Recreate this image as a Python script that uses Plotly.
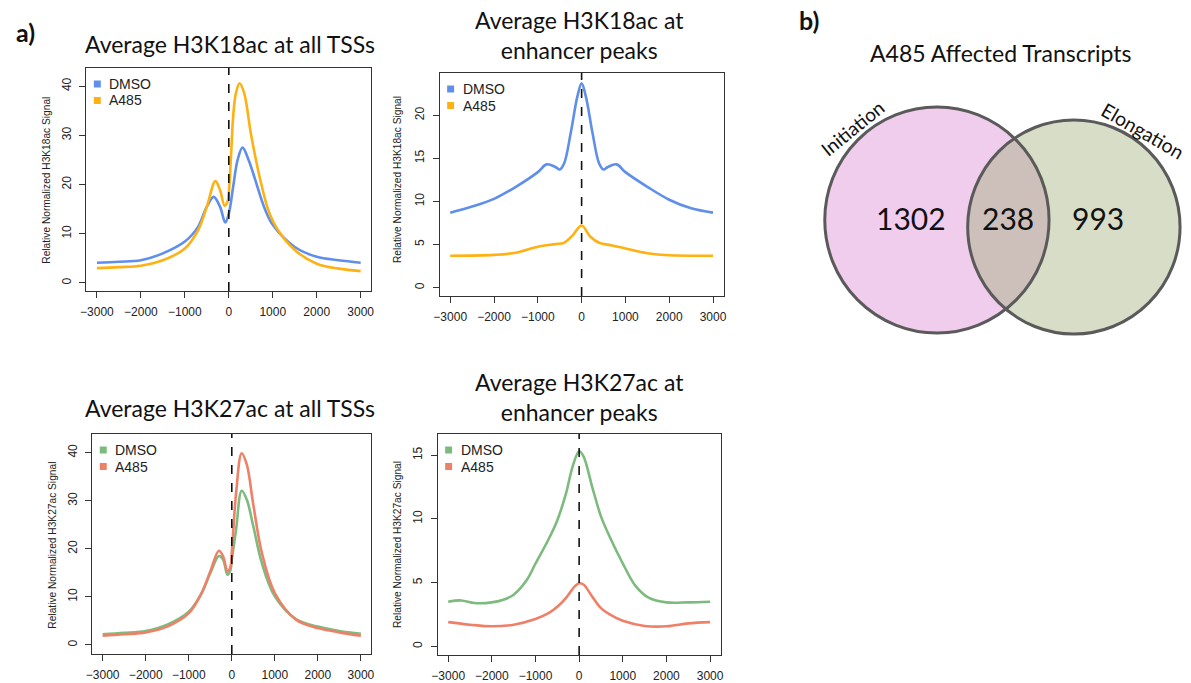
import numpy as np
import plotly.graph_objects as go

W, H = 1191, 683

# ---------------- data ----------------
xticks = [-3000, -2000, -1000, 0, 1000, 2000, 3000]

k18_tss_dmso_x = [-3000, -2500, -2000, -1500, -1000, -700, -500, -344, -200, -80, 0, 100, 200, 312, 450, 600, 800, 1000, 1500, 2000, 2500, 3000]
k18_tss_dmso_y = [4.1, 4.3, 4.6, 6.0, 8.4, 11.4, 15.5, 17.5, 15.5, 12.3, 14.1, 19.6, 25.0, 27.5, 25.0, 21.0, 15.5, 11.8, 7.3, 5.3, 4.6, 4.1]
k18_tss_a485_x = [-3000, -2500, -2000, -1500, -1000, -700, -500, -306, -200, -95, -30, 0, 50, 100, 160, 245, 350, 500, 700, 900, 1100, 1500, 2000, 2500, 3000]
k18_tss_a485_y = [3.0, 3.2, 3.5, 4.6, 7.0, 10.7, 15.5, 20.7, 18.9, 15.7, 16.5, 18.3, 25.7, 33.9, 38.5, 40.6, 38.6, 30.5, 21.6, 14.8, 11.0, 6.7, 3.9, 2.9, 2.4]

k18_enh_dmso_x = [-3000, -2500, -2000, -1500, -1000, -800, -600, -500, -400, -250, -100, 0, 100, 250, 400, 500, 600, 800, 1000, 1500, 2000, 2500, 3000]
k18_enh_dmso_y = [8.7, 9.4, 10.3, 11.7, 13.4, 14.3, 14.0, 13.7, 14.4, 17.9, 22.1, 23.7, 22.1, 17.9, 14.4, 13.7, 14.0, 14.3, 13.4, 11.7, 10.2, 9.2, 8.7]
k18_enh_a485_x = [-3000, -2000, -1500, -1000, -600, -400, -200, 0, 200, 400, 700, 1000, 1500, 2000, 3000]
k18_enh_a485_y = [3.7, 3.8, 4.05, 4.75, 5.05, 5.2, 6.1, 7.2, 5.9, 5.2, 4.9, 4.55, 4.0, 3.75, 3.7]

k27_tss_x = [-3000, -2500, -2000, -1500, -1000, -700, -500, -300, -200, -100, -30, 0, 100, 230, 350, 500, 700, 1000, 1500, 2000, 2500, 3000]
k27_tss_dmso_y = [2.2, 2.5, 2.9, 4.2, 6.9, 10.8, 14.9, 18.5, 17.7, 14.6, 15.6, 17.7, 24.0, 32.1, 30.2, 24.7, 17.0, 10.1, 5.3, 3.8, 2.9, 2.3]
k27_tss_a485_y = [1.9, 2.2, 2.6, 3.8, 6.6, 10.8, 15.3, 19.6, 18.4, 15.3, 16.3, 19.1, 31.6, 39.9, 37.5, 29.2, 19.1, 10.8, 5.2, 3.5, 2.6, 1.9]

k27_enh_dmso_x = [-3000, -2700, -2400, -2000, -1700, -1500, -1200, -1000, -700, -500, -300, -150, 0, 100, 300, 500, 700, 1000, 1300, 1600, 2000, 2500, 3000]
k27_enh_dmso_y = [3.5, 3.6, 3.4, 3.45, 3.7, 4.05, 5.2, 6.5, 8.4, 9.9, 12.0, 14.1, 15.3, 14.9, 12.5, 10.2, 8.6, 6.5, 4.7, 3.8, 3.45, 3.45, 3.5]
k27_enh_a485_x = [-3000, -2500, -2000, -1500, -1000, -700, -500, -300, -100, 0, 100, 300, 500, 700, 1000, 1500, 2000, 2500, 3000]
k27_enh_a485_y = [1.9, 1.7, 1.57, 1.7, 2.15, 2.6, 3.1, 3.8, 4.7, 4.95, 4.85, 3.9, 3.0, 2.5, 2.0, 1.6, 1.57, 1.8, 1.9]

panel_titles = ["Average H3K18ac at all TSSs", "Average H3K18ac at<br>enhancer peaks",
                "Average H3K27ac at all TSSs", "Average H3K27ac at<br>enhancer peaks"]
ylabels = ["Relative Normalized H3K18ac Signal", "Relative Normalized H3K18ac Signal",
           "Relative Normalized H3K27ac Signal", "Relative Normalized H3K27ac Signal"]
series_names = ["DMSO", "A485"]

venn_title = "A485 Affected Transcripts"
venn_sets = ["Initiation", "Elongation"]
venn_counts = [1302, 238, 993]  # only-initiation, both, only-elongation

# ---------------- styling ----------------
BLUE, ORANGE = "#5f8fea", "#fdb112"
GREEN, SALMON = "#7dba7d", "#ef8068"
FONT_T = "Lato"
FONT_A = "Liberation Sans"

def px(x):
    return x / W

def py(y):
    return 1 - y / H

# panel boxes in pixels: left, right, top, bottom
boxes = [(81, 368, 68, 291), (437, 723, 73, 296), (87, 368, 434, 654), (435, 720, 434, 655)]
yranges = [[-1.65, 43.7], [-0.97, 24.9], [-1.9, 43.9], [-0.68, 16.66]]
ytickvals = [[0, 10, 20, 30, 40], [0, 5, 10, 15, 20], [0, 10, 20, 30, 40], [0, 5, 10, 15]]

fig = go.Figure()

panel_data = [
    [(k18_tss_dmso_x, k18_tss_dmso_y, BLUE), (k18_tss_a485_x, k18_tss_a485_y, ORANGE)],
    [(k18_enh_dmso_x, k18_enh_dmso_y, BLUE), (k18_enh_a485_x, k18_enh_a485_y, ORANGE)],
    [(k27_tss_x, k27_tss_dmso_y, GREEN), (k27_tss_x, k27_tss_a485_y, SALMON)],
    [(k27_enh_dmso_x, k27_enh_dmso_y, GREEN), (k27_enh_a485_x, k27_enh_a485_y, SALMON)],
]

layout = {}
shapes = []
annotations = []

def ann(x, y, text, size, family=FONT_T, angle=0, xanchor="center", color="#111"):
    annotations.append(dict(x=px(x), y=py(y), xref="paper", yref="paper", text=text,
                            showarrow=False, textangle=angle, xanchor=xanchor, yanchor="middle",
                            font=dict(family=family, size=size, color=color)))

for i, (box, series) in enumerate(zip(boxes, panel_data)):
    n = i + 1
    xa = "x" if n == 1 else f"x{n}"
    ya = "y" if n == 1 else f"y{n}"
    for (xs, ys, col), nm in zip(series, series_names):
        fig.add_trace(go.Scatter(x=xs, y=ys, mode="lines", name=nm, xaxis=xa, yaxis=ya,
                                 line=dict(color=col, width=2.6, shape="spline", smoothing=1.0),
                                 showlegend=False, hoverinfo="skip"))
    l, r, t, b = box
    axis_common = dict(showline=True, mirror=True, linecolor="#333", linewidth=1,
                       ticks="outside", ticklen=6, tickcolor="#333", tickwidth=1,
                       showgrid=False, zeroline=False,
                       tickfont=dict(family=FONT_A, size=12, color="#222"))
    layout["xaxis" if n == 1 else f"xaxis{n}"] = dict(
        domain=[px(l), px(r)], range=[-3240, 3240], tickvals=xticks, anchor=ya,
        ticklabelstandoff=4, **axis_common)
    layout["yaxis" if n == 1 else f"yaxis{n}"] = dict(
        domain=[py(b), py(t)], range=yranges[i], tickvals=ytickvals[i], anchor=xa,
        tickangle=-90, ticklabelstandoff=4, **axis_common)
    # dashed line at 0
    shapes.append(dict(type="line", xref=xa, yref=f"{ya} domain", x0=0, x1=0, y0=0, y1=1,
                       line=dict(color="#111", width=1.6, dash="dash")))
    # legend squares + text
    lx = l + 11
    for k, (nm, (_, _, col)) in enumerate(zip(series_names, series)):
        yy = t + 16 + k * 16.5
        shapes.append(dict(type="rect", xref="paper", yref="paper",
                           x0=px(lx - 3.5), x1=px(lx + 3.5), y0=py(yy + 3.5), y1=py(yy - 3.5),
                           fillcolor=col, line=dict(width=0)))
        ann(lx + 10, yy, nm, 14, family=FONT_A, xanchor="left", color="#222")

# y axis titles
ylab_pos = [(40, 180), (394, 180), (46, 545), (394, 545)]
for (x, y), lab in zip(ylab_pos, ylabels):
    ann(x, y, lab, 10.2, family=FONT_A, angle=-90, color="#222")

# panel titles
title_pos = [(226, 44), (578, 35), (226, 408), (578, 397)]
for (x, y), tt in zip(title_pos, panel_titles):
    ann(x, y, tt, 23)

ann(20, 32, "<b>a)</b>", 25)
ann(809, 20, "<b>b)</b>", 25)

# ---------------- Venn ----------------
c1 = (938, 220, 113)
c2 = (1076, 227, 107)
PINK, OLIVE, MIX, EDGE = "#f0cdec", "#d7ddc6", "#cdc0bb", "#5a5a5a"

def circle_pts(c, a0, a1, n=120):
    a = np.linspace(a0, a1, n)
    return c[0] + c[2] * np.cos(a), c[1] + c[2] * np.sin(a)

for c, col in ((c1, PINK), (c2, OLIVE)):
    shapes.append(dict(type="circle", xref="paper", yref="paper",
                       x0=px(c[0] - c[2]), x1=px(c[0] + c[2]), y0=py(c[1] + c[2]), y1=py(c[1] - c[2]),
                       fillcolor=col, line=dict(width=0), layer="above"))

# lens (intersection)
dx, dy = c2[0] - c1[0], c2[1] - c1[1]
d = np.hypot(dx, dy)
a = (c1[2] ** 2 - c2[2] ** 2 + d ** 2) / (2 * d)
base = np.arctan2(dy, dx)
t1 = np.arccos(a / c1[2])
t2 = np.arccos((d - a) / c2[2])
ax1, ay1 = circle_pts(c1, base - t1, base + t1)
ax2, ay2 = circle_pts(c2, base + np.pi - t2, base + np.pi + t2)
lx_ = np.concatenate([ax1, ax2])
ly_ = np.concatenate([ay1, ay2])
path = "M " + " L ".join(f"{px(x):.5f},{py(y):.5f}" for x, y in zip(lx_, ly_)) + " Z"
shapes.append(dict(type="path", xref="paper", yref="paper", path=path,
                   fillcolor=MIX, line=dict(width=0), layer="above"))
for c in (c1, c2):
    shapes.append(dict(type="circle", xref="paper", yref="paper",
                       x0=px(c[0] - c[2]), x1=px(c[0] + c[2]), y0=py(c[1] + c[2]), y1=py(c[1] - c[2]),
                       fillcolor="rgba(0,0,0,0)", line=dict(color=EDGE, width=3), layer="above"))

for (x, y), v in zip([(912, 218), (1010, 218), (1100, 218)], venn_counts):
    ann(x, y, str(v), 30)

ann(1003, 53, venn_title, 23)
ann(852, 128, venn_sets[0], 19, angle=-39)
ann(1145, 131, venn_sets[1], 19.5, angle=30)

fig.update_layout(width=W, height=H, margin=dict(l=0, r=0, t=0, b=0),
                  paper_bgcolor="white", plot_bgcolor="white",
                  shapes=shapes, annotations=annotations, showlegend=False, **layout)

fig.write_html("out.html", config={"displayModeBar": False},
               post_script="document.body.style.margin='0px';document.body.style.overflow='hidden';")
